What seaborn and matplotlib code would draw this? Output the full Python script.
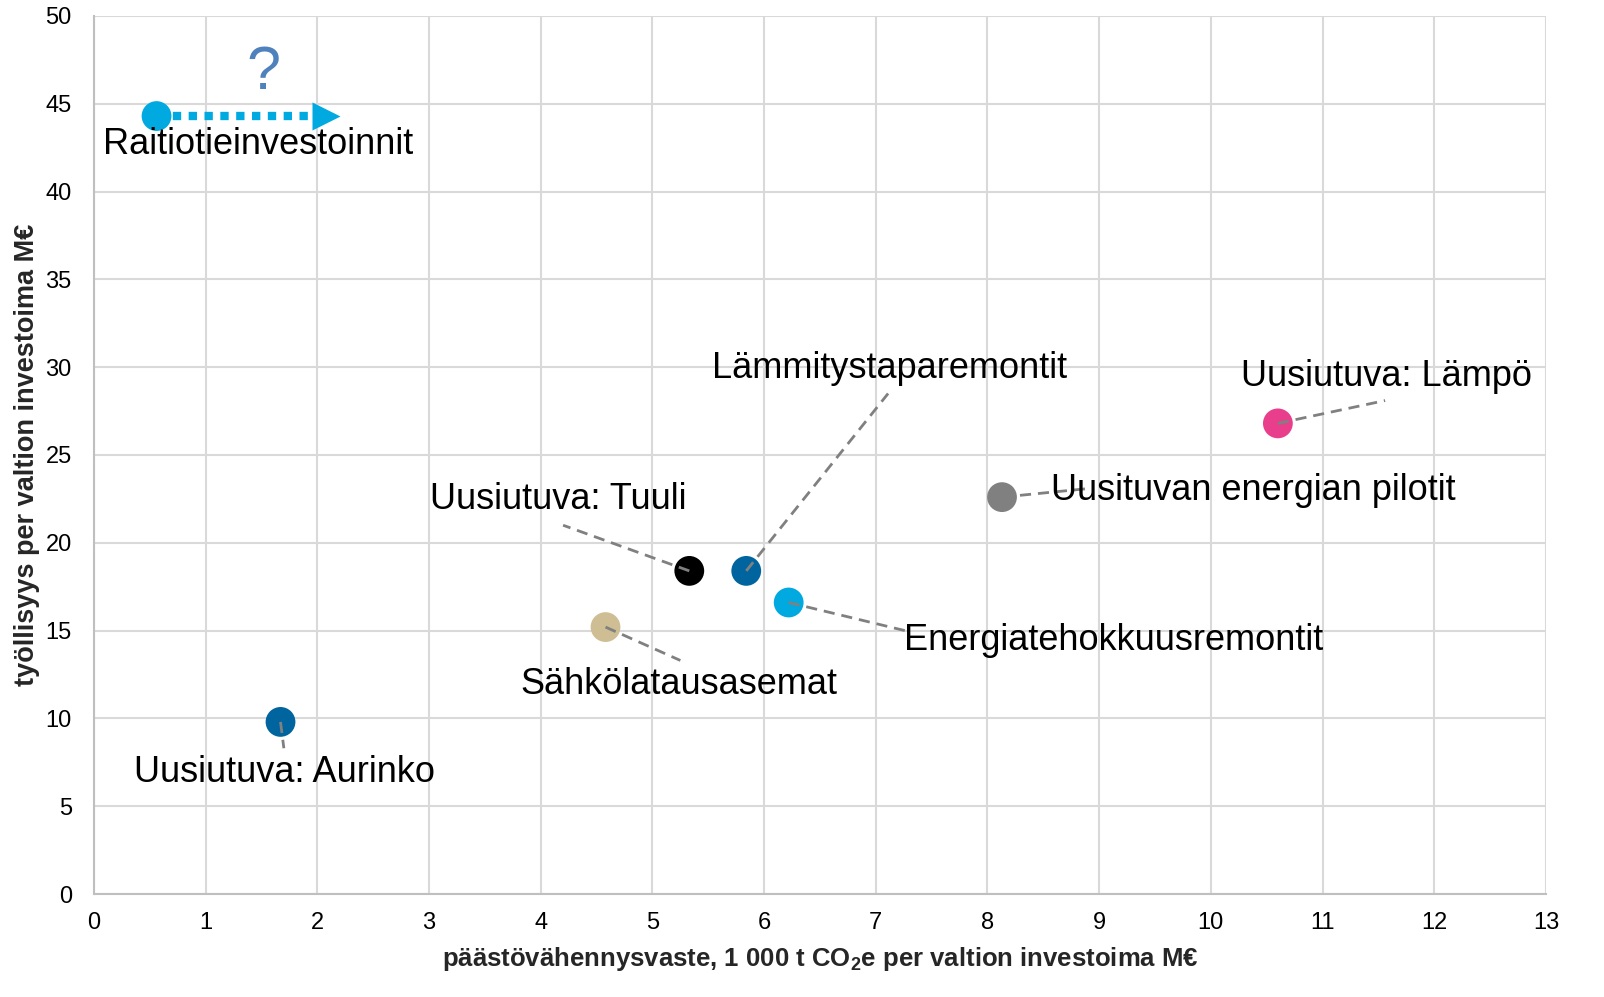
import matplotlib
matplotlib.use("Agg")
import matplotlib.pyplot as plt
import seaborn as sns
import pandas as pd

# Data
names = ["Raitiotieinvestoinnit", "Uusiutuva: Aurinko", "Sähkölatausasemat", "Uusiutuva: Tuuli",
         "Lämmitystaparemontit", "Energiatehokkuusremontit", "Uusituvan energian pilotit", "Uusiutuva: Lämpö"]
paastovaste = [0.56, 1.67, 4.58, 5.33, 5.84, 6.22, 8.13, 10.60]
tyollisyys = [44.3, 9.8, 15.2, 18.4, 18.4, 16.6, 22.6, 26.8]

df = pd.DataFrame({"name": names, "x": paastovaste, "y": tyollisyys})

colors = {
    "Raitiotieinvestoinnit": "#00A9E0",
    "Uusiutuva: Aurinko": "#00649F",
    "Sähkölatausasemat": "#CFBE93",
    "Uusiutuva: Tuuli": "#000000",
    "Lämmitystaparemontit": "#00649F",
    "Energiatehokkuusremontit": "#00A9E0",
    "Uusituvan energian pilotit": "#808080",
    "Uusiutuva: Lämpö": "#E83E8C",
}

# label centre and leader line end (data coords)
label_pos = {
    "Raitiotieinvestoinnit": ((1.47, 42.7), None),
    "Uusiutuva: Aurinko": ((1.71, 6.9), (1.70, 8.3)),
    "Sähkölatausasemat": ((5.24, 11.95), (5.25, 13.3)),
    "Uusiutuva: Tuuli": ((4.16, 22.45), (4.20, 21.0)),
    "Lämmitystaparemontit": ((7.12, 29.9), (7.11, 28.5)),
    "Energiatehokkuusremontit": ((9.13, 14.45), (7.26, 15.0)),
    "Uusituvan energian pilotit": ((10.38, 23.0), (8.92, 23.1)),
    "Uusiutuva: Lämpö": ((11.57, 29.45), (11.56, 28.1)),
}
arrow_end = 2.1  # end of the dotted "?" arrow

sns.set_style("white")
plt.rcParams['font.family'] = ['Liberation Sans', 'DejaVu Sans']
plt.rcParams['mathtext.fontset'] = 'custom'
plt.rcParams['mathtext.bf'] = 'Liberation Sans:bold'
plt.rcParams['mathtext.rm'] = 'Liberation Sans:bold'

fig = plt.figure(figsize=(16.04, 9.97), dpi=100)
ax = fig.add_axes([0.0586, 0.1033, 0.9052, 0.8807])

# leader lines under the markers
for name, xv, yv in zip(names, paastovaste, tyollisyys):
    end = label_pos[name][1]
    if end is not None:
        ax.plot([xv, end[0]], [yv, end[1]], color="#808080", lw=2, ls=(0, (4, 2.5)), zorder=3)

# dotted arrow for Raitiotie
ax.plot([paastovaste[0], arrow_end - 0.1], [tyollisyys[0]] * 2, color="#00A9E0", lw=6,
        ls=(0, (1, 0.9)), solid_capstyle="butt", dash_capstyle="butt", zorder=2)
ax.plot([arrow_end - 0.02], [tyollisyys[0]], marker=">", ms=20, color="#00A9E0", mec="none", zorder=2)
ax.text(1.52, 46.7, "?", color="#4F81BD", fontsize=44, ha="center", va="center", zorder=4)

sns.scatterplot(data=df, x="x", y="y", hue="name", palette=colors, s=460, edgecolor="none",
                legend=False, ax=ax, zorder=2)

for name in names:
    (lx, ly), _ = label_pos[name]
    ax.text(lx, ly, name, fontsize=26, ha="center", va="center", color="black", zorder=5)

ax.set_xlim(0, 13)
ax.set_ylim(0, 50)
ax.set_xticks(range(0, 14))
ax.set_yticks(range(0, 51, 5))
ax.grid(True, color="#D9D9D9", lw=1.5)
ax.set_axisbelow(True)
for s in ["top", "right"]:
    ax.spines[s].set_visible(False)
for s in ["left", "bottom"]:
    ax.spines[s].set_color("#BFBFBF")
    ax.spines[s].set_linewidth(1.5)
ax.tick_params(axis="both", labelsize=17, colors="#000000", length=0)
ax.tick_params(axis="x", pad=13)
ax.tick_params(axis="y", pad=16)

ax.set_xlabel(r"päästövähennysvaste, 1 000 t CO$_\mathbf{2}$e per valtion investoima M€",
              fontsize=18.5, fontweight="bold", labelpad=8)
ax.set_ylabel("työllisyys per valtion investoima M€", fontsize=19.5, fontweight="bold", labelpad=4)

fig.savefig("out.png", dpi=100)
